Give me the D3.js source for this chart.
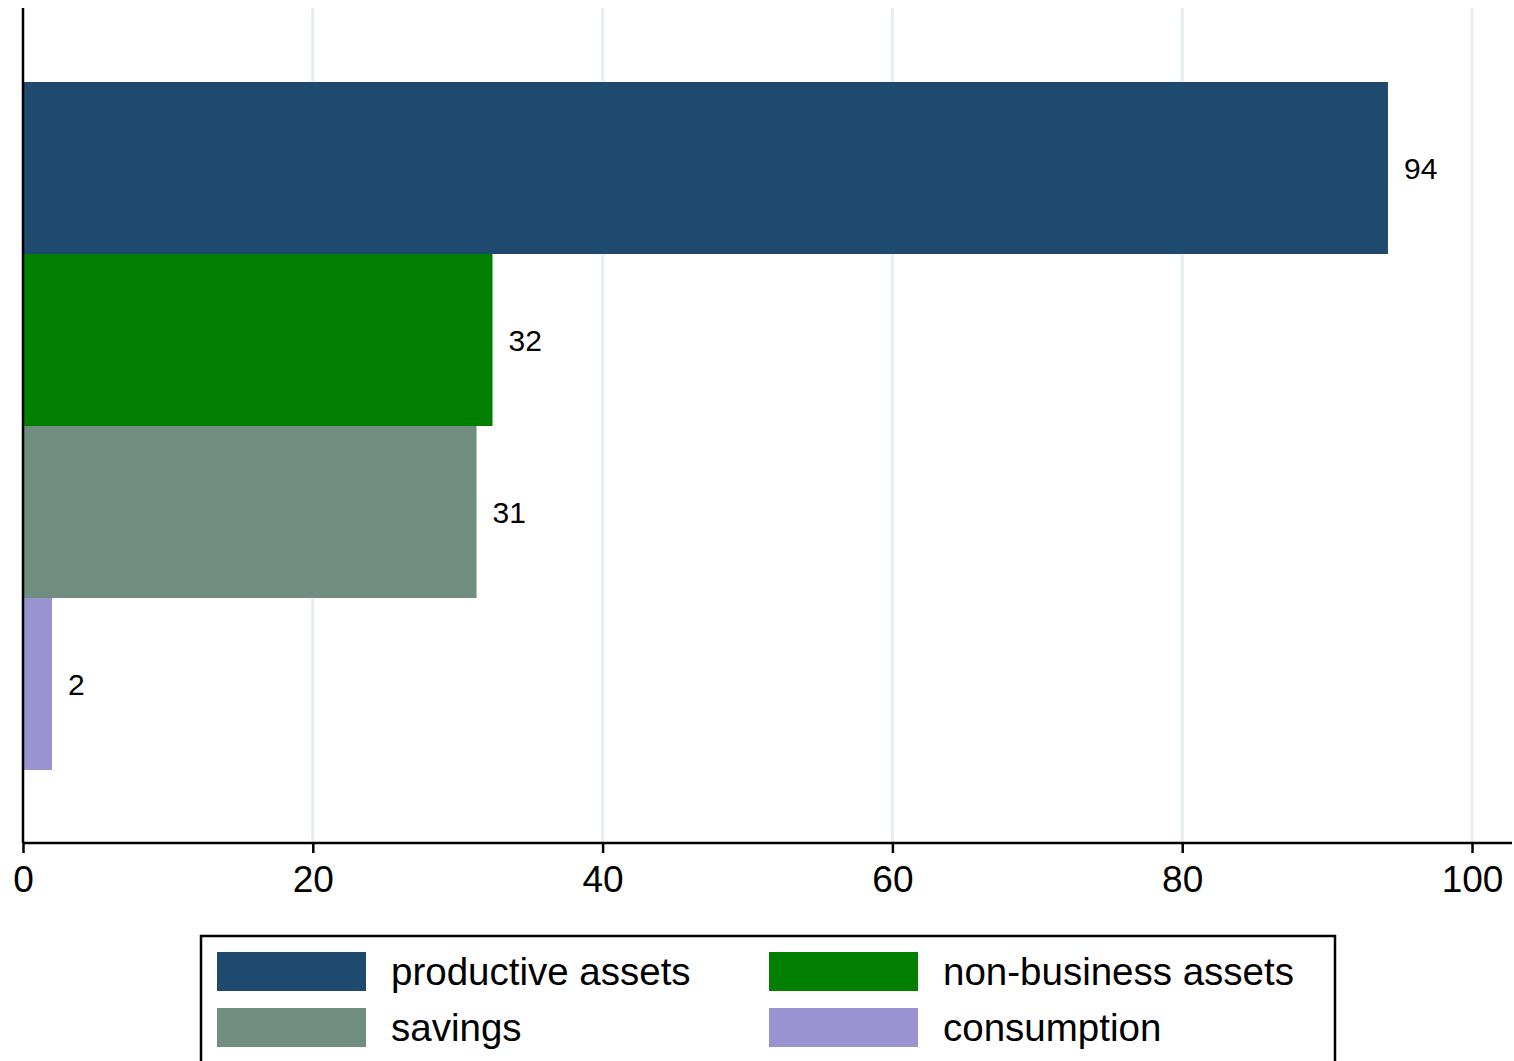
<!DOCTYPE html>
<html lang="en">
<head>
<meta charset="UTF-8">
<script src="https://d3js.org/d3.v7.min.js"></script>
<style>
  body { margin: 0; background: white; font-family: Arial, "Liberation Sans", sans-serif; }
</style>
</head>
<body>
<svg id="chart" width="1514" height="1061"></svg>
<script>
const categories = ["productive assets", "non-business assets", "savings", "consumption"];
const values = [94.2, 32.4, 31.3, 2.0];
const labels = ["94", "32", "31", "2"];
const colors = ["#1e4a6f", "#007f00", "#6f8e80", "#9a93d2"];
const ticks = [0, 20, 40, 60, 80, 100];

const svg = d3.select("#chart");
const x = d3.scaleLinear().domain([0, 100]).range([23, 1472]);
const y = d3.scaleBand().domain(categories).range([82, 770]).padding(0);

// grid
svg.selectAll("line.grid").data(ticks.slice(1)).enter().append("line")
  .attr("x1", d => x(d)).attr("x2", d => x(d))
  .attr("y1", 8).attr("y2", 843)
  .attr("stroke", "#e6eef1").attr("stroke-width", 3);

// bars
svg.selectAll("rect.bar").data(categories).enter().append("rect")
  .attr("x", x(0)).attr("y", d => y(d))
  .attr("width", (d, i) => x(values[i]) - x(0))
  .attr("height", y.bandwidth())
  .attr("fill", (d, i) => colors[i]);

svg.selectAll("text.val").data(categories).enter().append("text")
  .attr("x", (d, i) => x(values[i]) + 16)
  .attr("y", d => y(d) + y.bandwidth() / 2 + 11)
  .style("font-size", "30px").text((d, i) => labels[i]);

// axes
svg.append("line").attr("x1", 23).attr("x2", 23).attr("y1", 8).attr("y2", 843)
  .attr("stroke", "black").attr("stroke-width", 2.5);
const xAxis = svg.append("g").attr("transform", "translate(0,843)")
  .call(d3.axisBottom(x).tickValues(ticks).tickSize(10).tickPadding(13).tickSizeOuter(0));
xAxis.select(".domain").attr("d", "M23,0H1512").attr("stroke-width", 2.5);
xAxis.selectAll(".tick line").attr("stroke-width", 2.5);
xAxis.selectAll("text").style("font-size", "37px").style("font-family", "Arial, 'Liberation Sans', sans-serif");

// legend
svg.append("rect").attr("x", 201).attr("y", 936).attr("width", 1134).attr("height", 140)
  .attr("fill", "white").attr("stroke", "black").attr("stroke-width", 2.5);
const lg = svg.selectAll("g.leg").data(categories).enter().append("g")
  .attr("transform", (d, i) => `translate(${i % 2 ? 769 : 217},${i < 2 ? 952 : 1008})`);
lg.append("rect").attr("width", 149).attr("height", 39).attr("fill", (d, i) => colors[i]);
lg.append("text").attr("x", 174).attr("y", 33).style("font-size", "38.5px").text(d => d);
</script>
</body>
</html>
